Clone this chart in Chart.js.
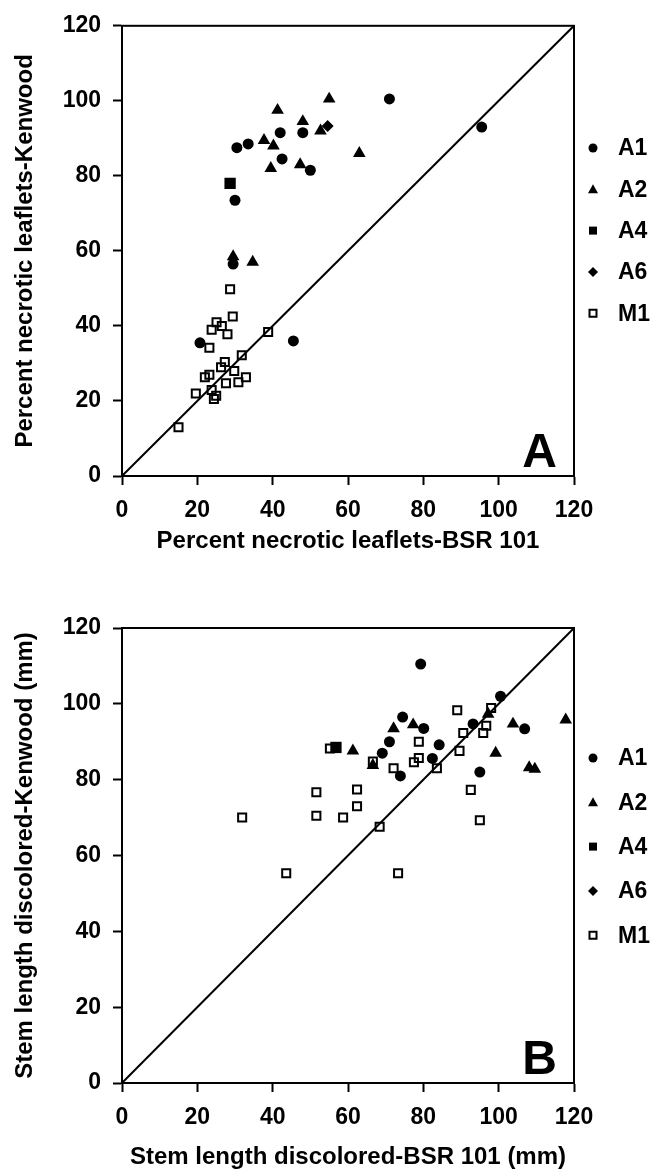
<!DOCTYPE html>
<html>
<head>
<meta charset="utf-8">
<script src="https://cdn.jsdelivr.net/npm/chart.js@4.4.1/dist/chart.umd.min.js"></script>
<style>
  html, body { margin: 0; padding: 0; background: #fff; }
  .panel { position: absolute; left: 0; width: 653px; }
  #panelA { top: 0; height: 600px; }
  #panelB { top: 600px; height: 572px; }
</style>
</head>
<body>
<div class="panel" id="panelA"><canvas id="chartA"></canvas></div>
<div class="panel" id="panelB"><canvas id="chartB"></canvas></div>
<script>
// Series labels and axis ticks
const seriesNames = ['A1', 'A2', 'A4', 'A6', 'M1'];
const tickValues = [0, 20, 40, 60, 80, 100, 120];

// 1:1 reference line
const diagX = [0, 120];
const diagY = [0, 120];

// --- Panel A: percent necrotic leaflets ---
const a_A1x = [71, 48, 42, 33.5, 30.5, 42.5, 50, 30, 29.5, 20.7, 45.5, 95.5];
const a_A1y = [100.5, 91.5, 91.5, 88.5, 87.5, 84.5, 81.5, 73.5, 56.5, 35.5, 36, 93];
const a_A2x = [55, 41.3, 48, 52.7, 37.7, 40.2, 39.5, 47.3, 63, 29.5, 34.7];
const a_A2y = [100.5, 97.5, 94.5, 92, 89.5, 88, 82, 83, 86, 58.5, 57];
const a_A4x = [28.7];
const a_A4y = [78];
const a_A6x = [54.6];
const a_A6y = [93.3];
const a_M1x = [28.7, 29.4, 25.1, 26.5, 23.8, 28, 38.8, 23.2, 31.8, 27.3, 26.3,
               29.8, 23.2, 22, 32.9, 30.9, 27.6, 19.6, 23.8, 25, 24.4, 15];
const a_M1y = [49.8, 42.5, 41, 40, 39, 37.8, 38.4, 34.2, 32.2, 30.4, 29,
               28, 27, 26.3, 26.3, 25, 24.7, 22, 22.9, 21.4, 20.5, 13];

// --- Panel B: stem length discolored (mm) ---
const b_A1x = [79.3, 100.5, 74.5, 80.1, 93.2, 106.9, 71, 69.1, 84.2, 82.4, 73.9, 95];
const b_A1y = [110.5, 102, 96.5, 93.5, 94.7, 93.4, 90, 87, 89.2, 85.6, 81, 82];
const b_A2x = [72.1, 77.3, 97.2, 103.8, 117.8, 99.2, 108.1, 109.6, 61.3, 66.6];
const b_A2y = [93.5, 94.5, 97.3, 94.7, 95.8, 87, 83.2, 82.8, 87.6, 83.8];
const b_A4x = [56.8];
const b_A4y = [88.5];
const b_A6x = [];
const b_A6y = [];
const b_M1x = [31.9, 51.6, 51.6, 58.7, 62.4, 62.4, 68.4, 55.2, 66.6, 72.1, 78.8, 78.8,
               77.5, 83.6, 89.6, 90.6, 95.9, 96.7, 89, 98, 92.6, 95, 43.6, 73.3];
const b_M1y = [70, 76.7, 70.5, 70, 77.4, 73, 67.6, 88.2, 84.8, 83, 90, 85.7,
               84.6, 83, 87.6, 92.3, 92.3, 94.2, 98.3, 98.9, 77.3, 69.3, 55.3, 55.3];

const FONT = '"Liberation Sans", Arial, Helvetica, sans-serif';
Chart.defaults.font.family = FONT;
Chart.defaults.font.weight = 'bold';
Chart.defaults.color = '#000';

function toPoints(xs, ys) {
    return xs.map((x, i) => ({ x: x, y: ys[i] }));
}

// marker look per series
const markerStyles = {
    A1: { pointStyle: 'circle', pointRadius: 5.5, backgroundColor: '#000', borderColor: '#000', borderWidth: 0 },
    A2: { pointStyle: 'triangle', pointRadius: 7.3, backgroundColor: '#000', borderColor: '#000', borderWidth: 0 },
    A4: { pointStyle: 'rect', pointRadius: 8, backgroundColor: '#000', borderColor: '#000', borderWidth: 0 },
    A6: { pointStyle: 'rectRot', pointRadius: 6, backgroundColor: '#000', borderColor: '#000', borderWidth: 0 },
    M1: { pointStyle: 'rect', pointRadius: 5.7, backgroundColor: 'rgba(255,255,255,0)', borderColor: '#000', borderWidth: 2 }
};

function drawLegendMarker(ctx, name, x, y) {
    ctx.save();
    ctx.fillStyle = '#000';
    ctx.strokeStyle = '#000';
    ctx.beginPath();
    if (name === 'A1') {
        ctx.arc(x, y, 4.5, 0, Math.PI * 2);
        ctx.fill();
    } else if (name === 'A2') {
        ctx.moveTo(x, y - 5);
        ctx.lineTo(x + 5, y + 4);
        ctx.lineTo(x - 5, y + 4);
        ctx.closePath();
        ctx.fill();
    } else if (name === 'A4') {
        ctx.rect(x - 4, y - 4, 8, 8);
        ctx.fill();
    } else if (name === 'A6') {
        ctx.moveTo(x, y - 5);
        ctx.lineTo(x + 5, y);
        ctx.lineTo(x, y + 5);
        ctx.lineTo(x - 5, y);
        ctx.closePath();
        ctx.fill();
    } else {
        ctx.lineWidth = 2;
        ctx.rect(x - 3.5, y - 3.5, 7, 7);
        ctx.stroke();
    }
    ctx.restore();
}

// frame, panel letter and side legend
const decorPlugin = {
    id: 'decor',
    beforeDatasetsDraw(chart) {
        const { ctx, chartArea: a } = chart;
        ctx.save();
        ctx.lineWidth = 2;
        ctx.strokeStyle = '#000';
        ctx.strokeRect(a.left, a.top, a.right - a.left, a.bottom - a.top);
        ctx.restore();
    },
    afterDraw(chart, args, opts) {
        const { ctx, chartArea: a } = chart;
        ctx.save();
        ctx.fillStyle = '#000';
        ctx.font = 'bold 48px ' + FONT;
        ctx.textAlign = 'right';
        ctx.textBaseline = 'alphabetic';
        ctx.fillText(opts.letter, a.right - 17, a.bottom - 9);

        ctx.font = 'bold 23px ' + FONT;
        ctx.textAlign = 'left';
        ctx.textBaseline = 'middle';
        seriesNames.forEach((name, i) => {
            const y = opts.legendTop + i * opts.legendGap;
            drawLegendMarker(ctx, name, a.right + 19, y);
            ctx.fillText(name, a.right + 44, y + 1);
        });
        ctx.restore();
    }
};

function makeChart(id, series, o) {
    const datasets = seriesNames.map((name, i) => Object.assign({
        label: name,
        data: toPoints(series[i][0], series[i][1]),
        order: 1
    }, markerStyles[name]));
    datasets.push({
        type: 'line',
        label: '1:1',
        data: toPoints(diagX, diagY),
        borderColor: '#000',
        borderWidth: 2,
        pointRadius: 0,
        fill: false,
        order: 10
    });

    return new Chart(document.getElementById(id).getContext('2d'), {
        type: 'scatter',
        data: { datasets: datasets },
        plugins: [decorPlugin],
        options: {
            responsive: true,
            maintainAspectRatio: false,
            animation: false,
            devicePixelRatio: 1,
            layout: { padding: o.padding },
            plugins: {
                legend: { display: false },
                tooltip: { enabled: false },
                decor: { letter: o.letter, legendTop: o.legendTop, legendGap: o.legendGap }
            },
            scales: {
                x: {
                    type: 'linear',
                    min: 0, max: 120,
                    afterFit: s => { s.height = o.xHeight; },
                    afterBuildTicks: s => { s.ticks = tickValues.map(v => ({ value: v })); },
                    ticks: { padding: 12, font: { size: 23, weight: 'bold' }, color: '#000' },
                    grid: { drawOnChartArea: false, drawTicks: true, tickLength: 9, tickWidth: 2, tickColor: '#000' },
                    border: { display: true, color: '#000', width: 2 },
                    title: { display: true, text: o.xTitle, font: { size: 24, weight: 'bold' }, color: '#000', padding: 0 }
                },
                y: {
                    type: 'linear',
                    min: 0, max: 120,
                    afterFit: s => { s.width = 122; },
                    afterBuildTicks: s => { s.ticks = tickValues.map(v => ({ value: v })); },
                    ticks: { padding: 12, font: { size: 23, weight: 'bold' }, color: '#000' },
                    grid: { drawOnChartArea: false, drawTicks: true, tickLength: 9, tickWidth: 2, tickColor: '#000' },
                    border: { display: true, color: '#000', width: 2 },
                    title: { display: true, text: o.yTitle, font: { size: 24, weight: 'bold' }, color: '#000', padding: { top: 11, bottom: 0 } }
                }
            }
        }
    });
}

makeChart('chartA',
    [[a_A1x, a_A1y], [a_A2x, a_A2y], [a_A4x, a_A4y], [a_A6x, a_A6y], [a_M1x, a_M1y]],
    {
        xTitle: 'Percent necrotic leaflets-BSR 101',
        yTitle: 'Percent necrotic leaflets-Kenwood',
        letter: 'A',
        padding: { top: 23, right: 79, bottom: 44, left: 0 },
        xHeight: 80,
        legendTop: 148,
        legendGap: 41.3
    });

makeChart('chartB',
    [[b_A1x, b_A1y], [b_A2x, b_A2y], [b_A4x, b_A4y], [b_A6x, b_A6y], [b_M1x, b_M1y]],
    {
        xTitle: 'Stem length discolored-BSR 101 (mm)',
        yTitle: 'Stem length discolored-Kenwood (mm)',
        letter: 'B',
        padding: { top: 28, right: 79, bottom: 0, left: 0 },
        xHeight: 89,
        legendTop: 158,
        legendGap: 44.3
    });
</script>
</body>
</html>
